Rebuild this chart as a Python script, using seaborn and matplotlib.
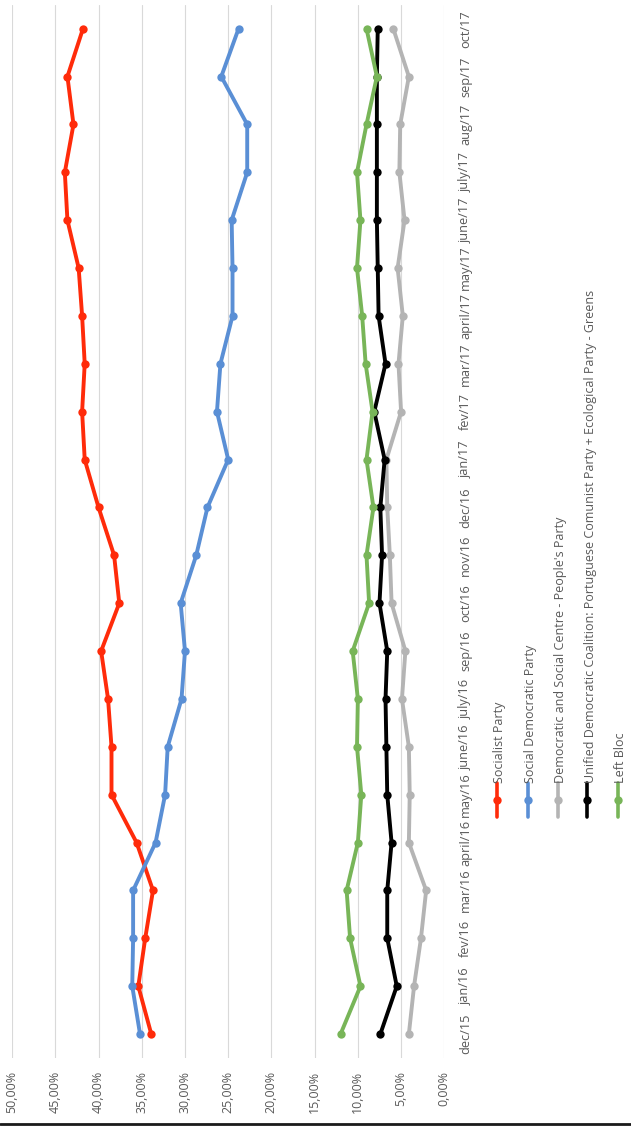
import numpy as np
import pandas as pd
import matplotlib
matplotlib.use("Agg")
import matplotlib.pyplot as plt
import seaborn as sns
from matplotlib.lines import Line2D

sns.set_theme(style="white")
plt.rcParams['font.family'] = ['Open Sans', 'DejaVu Sans']

# Dados
meses = ['dec/15', 'jan/16', 'fev/16', 'mar/16', 'april/16', 'may/16', 'june/16',
         'july/16', 'sep/16', 'oct/16', 'nov/16', 'dec/16', 'jan/17', 'fev/17',
         'mar/17', 'april/17', 'may/17', 'june/17', 'july/17', 'aug/17', 'sep/17', 'oct/17']
partidos = ['Socialist Party', 'Social Democratic Party',
            "Democratic and Social Centre - People's Party",
            'Unified Democratic Coalition: Portuguese Comunist Party + Ecological Party - Greens',
            'Left Bloc']
cores = ['#ff2b0a', '#5a8fd5', '#b4b4b4', '#000000', '#78b558']

ps = [33.9, 35.4, 34.6, 33.7, 35.6, 38.5, 38.5, 38.9, 39.7, 37.6, 38.2, 40.0,
      41.6, 41.9, 41.6, 41.9, 42.3, 43.6, 43.9, 42.9, 43.6, 41.8]
psd = [35.2, 36.1, 36.0, 36.0, 33.4, 32.3, 32.0, 30.4, 30.0, 30.5, 28.7, 27.4,
       25.0, 26.3, 25.9, 24.5, 24.5, 24.6, 22.8, 22.8, 25.8, 23.8]
cds = [4.1, 3.5, 2.7, 2.1, 4.1, 4.0, 4.1, 4.9, 4.5, 6.1, 6.3, 6.6,
       6.7, 5.0, 5.3, 4.8, 5.4, 4.6, 5.2, 5.1, 4.1, 5.9]
cdu = [7.4, 5.5, 6.6, 6.6, 6.1, 6.6, 6.7, 6.8, 6.6, 7.5, 7.2, 7.4,
       6.9, 8.1, 6.8, 7.6, 7.7, 7.8, 7.8, 7.8, 7.8, 7.7]
be = [12.0, 9.7, 10.9, 11.3, 10.0, 9.6, 10.1, 10.0, 10.6, 8.7, 9.0, 8.2,
      9.0, 8.3, 9.1, 9.5, 10.1, 9.7, 10.1, 9.0, 7.8, 9.0]
series = [ps, psd, cds, cdu, be]
pct_ticks = list(range(0, 55, 5))

df = pd.concat([pd.DataFrame({'pos': np.arange(len(meses)), 'mes': meses,
                              'valor': v, 'partido': p})
                for p, v in zip(partidos, series)], ignore_index=True)

W, H = 631, 1126
fig = plt.figure(figsize=(W / 100, H / 100), dpi=100, facecolor='white')
ax = fig.add_axes([12.1 / W, (H - 1058) / H, (444.3 - 12.1) / W, (1058 - 4.75) / H])

sns.lineplot(data=df, x='valor', y='pos', hue='partido', hue_order=partidos,
             palette=cores, orient='y', marker='o', markersize=6,
             markeredgewidth=0, linewidth=2.8, legend=False, ax=ax)

ax.set_xlim(50, 0)
ax.set_ylim(-0.5, len(meses) - 0.5)
ax.set_xticks(pct_ticks)
ax.set_xticklabels([f"{t:.2f}%".replace('.', ',') for t in pct_ticks],
                   rotation=90, fontsize=9, color='#595959')
ax.yaxis.tick_right()
ax.set_yticks(range(len(meses)))
ax.set_yticklabels(meses, rotation=90, fontsize=9.2, color='#595959', va='center')
ax.tick_params(axis='x', length=0, pad=9.5)
ax.tick_params(axis='y', length=0, pad=10.5)
ax.set_xlabel('')
ax.set_ylabel('')
ax.grid(axis='x', color='#d9d9d9', linewidth=0.8)
ax.grid(axis='y', visible=False)
for s in ax.spines.values():
    s.set_visible(False)

# Legenda manual (rotacionada)
leg_x = [497, 527.7, 557.7, 587.3, 617.7]
for lx, cor, nome in zip(leg_x, cores, partidos):
    fig.add_artist(Line2D([lx / W, lx / W], [(H - 783) / H, (H - 817) / H],
                          color=cor, lw=2.6, transform=fig.transFigure))
    fig.add_artist(Line2D([lx / W], [(H - 800) / H], marker='o', markersize=6,
                          markeredgewidth=0, color=cor, transform=fig.transFigure))
    fig.text((lx + 3) / W, (H - 783) / H, nome, rotation=90, ha='center',
             va='bottom', fontsize=9, color='#595959')

fig.add_artist(Line2D([0, 1], [(H - 1123.5) / H] * 2, color='#1a1a1a', lw=2,
                      transform=fig.transFigure))

plt.savefig('out.png', dpi=100, facecolor='white')
